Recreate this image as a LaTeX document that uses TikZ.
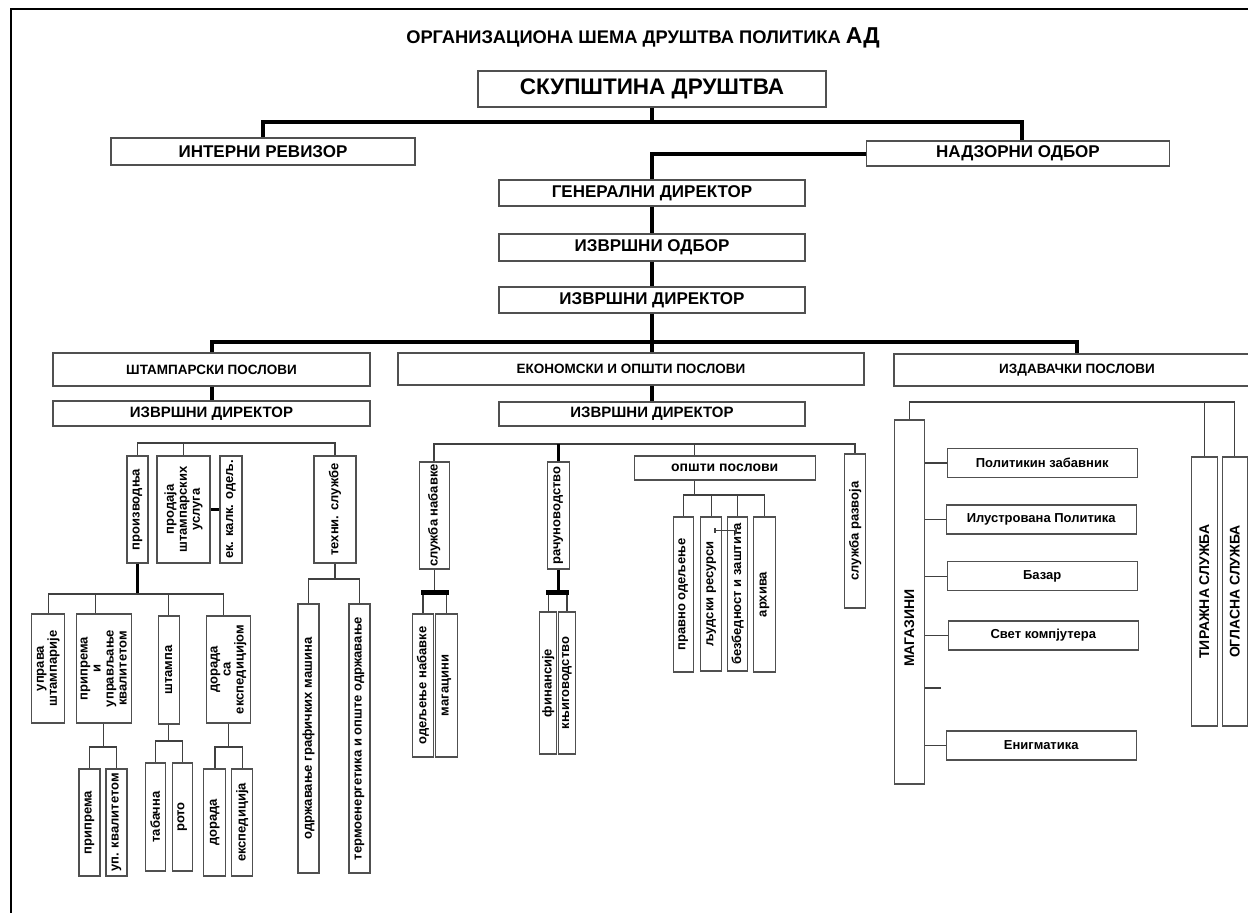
\documentclass[tikz,border=0pt]{standalone}
\usepackage{fontspec}
\setmainfont{Liberation Sans}
\usetikzlibrary{arrows.meta}

\definecolor{boxgray}{HTML}{505050}
\definecolor{linegray}{HTML}{404040}

\tikzset{
  box/.style={draw=boxgray, line width=1.2pt, fill=white, inner sep=0pt, align=center},
  hbox/.style={box},
  vbox/.style={box, rotate=90},
  txttitle/.style={font=\fontsize{18.3}{21}\selectfont\bfseries},
  txtbig/.style={font=\fontsize{22.5}{26}\selectfont\bfseries},
  txthead/.style={font=\fontsize{17}{20}\selectfont\bfseries},
  txtlevel/.style={font=\fontsize{13.5}{16}\selectfont\bfseries},
  txtsub/.style={font=\fontsize{15}{18}\selectfont\bfseries},
  txtsmall/.style={font=\fontsize{13}{13}\selectfont\bfseries},
  txtcaps/.style={font=\fontsize{14}{16}\selectfont\bfseries},
  txtmag/.style={font=\fontsize{13}{15}\selectfont\bfseries},
  thickline/.style={line width=4pt, black},
  medline/.style={line width=3pt, black},
  midline/.style={line width=2pt, linegray},
  thinline/.style={line width=1.4pt, linegray},
  barline/.style={line width=5pt, black, shorten <=-2pt, shorten >=-2pt},
}

\begin{document}
\begin{tikzpicture}[x=1pt, y=-1pt]
\useasboundingbox (0,0) rectangle (1248,913);

% frame
\draw[line width=2pt] (11,913) -- (11,9) -- (1248,9);

% title
\node[txttitle] (title) at (643,38) {ОРГАНИЗАЦИОНА ШЕМА ДРУШТВА ПОЛИТИКА {\fontsize{23}{26}\selectfont АД}};

% top levels
\node[hbox, txtbig, minimum width=348pt, minimum height=36pt] (skup) at (652,89) {СКУПШТИНА ДРУШТВА};
\node[hbox, txthead, minimum width=304pt, minimum height=27pt] (rev) at (263,151.5) {ИНТЕРНИ РЕВИЗОР};
\node[hbox, txthead, minimum width=303pt, minimum height=25pt] (nadz) at (1018,153.5) {НАДЗОРНИ ОДБОР};
\node[hbox, txthead, minimum width=306pt, minimum height=26pt] (gendir) at (652,193) {ГЕНЕРАЛНИ ДИРЕКТОР};
\node[hbox, txthead, minimum width=306pt, minimum height=27pt] (izvodb) at (652,247.5) {ИЗВРШНИ ОДБОР};
\node[hbox, txthead, minimum width=306pt, minimum height=26pt] (izvdir) at (652,300) {ИЗВРШНИ ДИРЕКТОР};

% sectors
\node[hbox, txtlevel, minimum width=317pt, minimum height=33pt] (stamp) at (211.5,369.5) {ШТАМПАРСКИ ПОСЛОВИ};
\node[hbox, txtlevel, minimum width=466pt, minimum height=32pt] (ekon) at (631,369) {ЕКОНОМСКИ И ОПШТИ ПОСЛОВИ};
\node[hbox, txtlevel, minimum width=366pt, minimum height=32pt] (izdav) at (1077,370) {ИЗДАВАЧКИ ПОСЛОВИ};
\node[hbox, txtsub, minimum width=317pt, minimum height=25pt] (stdir) at (211.5,413.5) {ИЗВРШНИ ДИРЕКТОР};
\node[hbox, txtsub, minimum width=306pt, minimum height=24pt] (ekdir) at (652,414) {ИЗВРШНИ ДИРЕКТОР};

% printing
\node[vbox, txtsmall, minimum width=107pt, minimum height=21pt] (proizv) at (137.5,509.5) {производња};
\node[vbox, txtsmall, minimum width=107pt, minimum height=53pt] (prodaja) at (183.5,509.5) {продаја\\штампарских\\услуга};
\node[vbox, txtsmall, minimum width=107pt, minimum height=22pt] (ekkalk) at (231,509.5) {ек. калк. одељ.};
\node[vbox, txtsmall, minimum width=107pt, minimum height=42pt] (tehn) at (335,509.5) {техни. службе};
\node[vbox, txtsmall, minimum width=109pt, minimum height=33pt] (uprava) at (48.3,668.5) {управа\\штампарије};
\node[vbox, txtsmall, minimum width=109pt, minimum height=55pt] (priprema) at (103.7,668.5) {припрема\\и\\управљање\\квалитетом};
\node[vbox, txtsmall, minimum width=108pt, minimum height=21pt] (stampa) at (168.7,670) {штампа};
\node[vbox, txtsmall, minimum width=107pt, minimum height=44pt] (dorada) at (228.5,669.5) {дорада\\са\\експедицијом};
\node[vbox, txtsmall, minimum width=107pt, minimum height=21pt] (pripr) at (89.5,822.5) {припрема};
\node[vbox, txtsmall, minimum width=107pt, minimum height=21pt] (upkval) at (116.5,822.5) {уп. квалитетом};
\node[vbox, txtsmall, minimum width=108pt, minimum height=20pt] (tabac) at (155.2,817) {табачна};
\node[vbox, txtsmall, minimum width=108pt, minimum height=20pt] (roto) at (182.3,817) {рото};
\node[vbox, txtsmall, minimum width=107pt, minimum height=22pt] (dor) at (214.8,822.5) {дорада};
\node[vbox, txtsmall, minimum width=107pt, minimum height=21pt] (eksp) at (242.2,822.5) {експедиција};
\node[vbox, txtsmall, minimum width=269pt, minimum height=21pt] (odrz) at (308.5,738.5) {одржавање графичких машина};
\node[vbox, txtsmall, minimum width=269pt, minimum height=21pt] (termo) at (359.5,738.5) {термоенергетика и опште одржавање};

% economy
\node[vbox, txtsmall, minimum width=107pt, minimum height=30pt] (nabav) at (434.3,515.5) {служба набавке};
\node[vbox, txtsmall, minimum width=107pt, minimum height=22pt] (racun) at (558.2,515.5) {рачуноводство};
\node[hbox, txtsmall, font=\fontsize{14}{14}\selectfont\bfseries, minimum width=181pt, minimum height=24pt] (opsti) at (724.7,468) {општи послови};
\node[vbox, txtsmall, minimum width=154pt, minimum height=21pt] (razvoj) at (855.3,531) {служба развоја};
\node[vbox, txtsmall, minimum width=143pt, minimum height=21pt] (odnab) at (423,685.5) {одељење набавке};
\node[vbox, txtsmall, minimum width=143pt, minimum height=22pt] (magac) at (446.5,685.5) {магацини};
\node[vbox, txtsmall, minimum width=142pt, minimum height=17pt] (finan) at (548.3,683) {финансије};
\node[vbox, txtsmall, minimum width=142pt, minimum height=17pt] (knjig) at (567,683) {књиговодство};
\node[vbox, txtsmall, minimum width=155pt, minimum height=20pt] (pravno) at (683.3,594.5) {правно одељење};
\node[vbox, txtsmall, minimum width=154pt, minimum height=21pt] (ljudski) at (711.2,594) {људски ресурси};
\node[vbox, txtsmall, minimum width=154pt, minimum height=20pt] (bezb) at (737.7,594) {безбедност и заштита};
\node[vbox, txtsmall, minimum width=155pt, minimum height=22pt] (arhiva) at (764.5,594.5) {архива};

% publishing
\node[vbox, txtcaps, minimum width=364pt, minimum height=30pt] (magaz) at (909.2,602) {МАГАЗИНИ\hspace*{52pt}};
\node[vbox, txtcaps, minimum width=269pt, minimum height=26pt] (tiraz) at (1204.3,591.5) {ТИРАЖНА СЛУЖБА};
\node[vbox, txtcaps, minimum width=269pt, minimum height=25pt] (oglas) at (1234.7,591.5) {ОГЛАСНА СЛУЖБА};
\node[hbox, txtmag, minimum width=190pt, minimum height=29pt] (zabav) at (1042.2,463) {Политикин забавник};
\node[hbox, txtmag, minimum width=190pt, minimum height=29pt] (ilustr) at (1041.2,519.5) {Илустрована Политика};
\node[hbox, txtmag, minimum width=190pt, minimum height=29pt] (bazar) at (1042.2,576.2) {Базар};
\node[hbox, txtmag, minimum width=190pt, minimum height=29pt] (svet) at (1043.3,635.5) {Свет компјутера};
\node[hbox, txtmag, minimum width=190pt, minimum height=29pt] (enigma) at (1041.2,745.4) {Енигматика};

% top connectors
\coordinate (topbus) at (652,122);
\draw[thickline] (skup.south) -- (topbus);
\draw[thickline] (rev.north) |- (topbus) -| ([xshift=4pt]nadz.north);
\draw[thickline] (gendir.north) |- (nadz.west);
\draw[thickline] (gendir) -- (izvodb);
\draw[thickline] (izvodb) -- (izvdir);

% main bus
\coordinate (mainbus) at (652,342);
\draw[thickline] (izvdir.south) -- (mainbus);
\draw[thickline] (stamp.north) |- (mainbus) -| (izdav.north);
\draw[thickline] (mainbus) -- (mainbus |- ekon.north);
\draw[thickline] (stamp) -- (stdir);
\draw[thickline] (ekdir.north |- ekon.south) -- (ekdir.north);

% printing connectors
\coordinate (stbus) at (235,443);
\draw[thinline] (proizv.east) |- (stbus) -| (tehn.east);
\draw[thinline] (prodaja.east) -- (prodaja.east |- stbus);
\draw[medline] (prodaja.south) -- (ekkalk.north);
\coordinate (przbus) at (137.5,594);
\draw[medline] (proizv.west) -- (przbus);
\coordinate (pprtop) at ([xshift=-8pt]priprema.east);
\coordinate (dortop) at ([xshift=-5pt]dorada.east);
\draw[thinline] (uprava.east) |- (przbus) -| (dortop);
\draw[thinline] (pprtop) -- (pprtop |- przbus);
\draw[thinline] (stampa.east) -- (stampa.east |- przbus);
\coordinate (pprbus) at (103.7,747);
\draw[thinline] (priprema.west) -- (pprbus);
\draw[thinline] (pripr.east) |- (pprbus) -| (upkval.east);
\coordinate (stmbus) at (168.7,741);
\draw[thinline] (stampa.west) -- (stmbus);
\draw[thinline] (tabac.east) |- (stmbus) -| (roto.east);
\coordinate (dorbus) at (228.5,747);
\draw[thinline] (dorada.west) -- (dorbus);
\draw[thinline] (dor.east) |- (dorbus) -| (eksp.east);
\coordinate (tehbus) at (335,579);
\draw[thinline] (tehn.west) -- (tehbus);
\draw[thinline] (odrz.east) |- (tehbus) -| (termo.east);

% economy connectors
\coordinate (ekbus) at (652,444);
\draw[midline] (nabav.east) |- (ekbus) -| (razvoj.east);
\draw[medline] (racun.east) -- (racun.east |- ekbus);
\coordinate (opstitop) at ([xshift=-30pt]opsti.north);
\draw[thinline] (opstitop) -- (opstitop |- ekbus);
\coordinate (nabbus) at (434.3,592);
\draw[thinline] (nabav.west) -- (nabbus);
\draw[thinline] (odnab.east) |- (nabbus) -| (magac.east);
\draw[barline] (odnab.east |- nabbus) -- (magac.east |- nabbus);
\coordinate (racbus) at (558.2,592);
\draw[medline] (racun.west) -- (racbus);
\draw[thinline] (finan.east) |- (racbus) -| (knjig.east);
\draw[barline] (finan.east |- racbus) -- (knjig.east |- racbus);
\coordinate (opstibot) at ([xshift=-30pt]opsti.south);
\coordinate (opsbus) at (724,495);
\draw[thinline] (opstibot) -- (opstibot |- opsbus);
\draw[thinline] (pravno.east) |- (opsbus) -| (arhiva.east);
\draw[thinline] (ljudski.east) -- (ljudski.east |- opsbus);
\draw[thinline] (bezb.east) -- (bezb.east |- opsbus);
\draw[thinline, {Bar[width=5pt]}-{Bar[width=5pt]}] ([xshift=3pt,yshift=-14pt]ljudski.east) -- ([xshift=-1pt,yshift=-14pt]bezb.east);

% publishing connectors
\coordinate (izbus) at (1100,402);
\draw[thinline] (magaz.east) |- (izbus) -| (oglas.east);
\draw[thinline] (tiraz.east) -- (tiraz.east |- izbus);
\foreach \m in {zabav, ilustr, bazar, svet, enigma}
  \draw[thinline] (\m.west) -- (\m.west -| magaz.south);
\coordinate (magstub) at (941,688);
\draw[thinline] (magstub) -- (magstub -| magaz.south);
\end{tikzpicture}
\end{document}
